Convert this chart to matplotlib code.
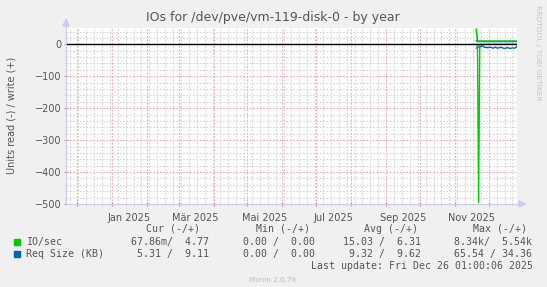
import matplotlib
matplotlib.use('Agg')
import matplotlib.pyplot as plt
import matplotlib.dates as mdates
from matplotlib.patches import Rectangle, Polygon
from datetime import datetime
import pandas as pd

# data (daily, one year graph)
days = pd.date_range('2025-11-20', '2025-12-26')
io_read = [0.5, 0.5, 495, 0.5, 0.4, 0.3, 0.4, 0.3, 0.2, 0.3, 0.2, 0.3, 0.2,
           0.2, 0.3, 0.2, 0.1, 0.2, 0.1, 0.1, 0.2, 0.1, 0.1, 0.1, 0.1, 0.1,
           0.2, 0.1, 0.1, 0.1, 0.1, 0.1, 0.1, 0.1, 0.1, 0.1, 0.07]
io_write = [47, 10, 10, 9.8, 10, 10, 9.9, 10, 10, 10, 9.8, 10, 10, 10, 9.9,
            10, 10, 10, 10, 9.9, 10, 10, 10, 10, 9.8, 10, 10, 10, 10, 9.9, 10,
            10, 10, 10, 10, 9.9, 10]
req_read = [12, 8, 9, 8, 7, 4, 6, 9, 10, 9, 11, 10, 9, 10, 11, 12, 10, 9,
            11, 12, 11, 10, 9, 11, 12, 13, 12, 11, 10, 12, 13, 12, 11, 12, 12,
            10, 6]
req_write = [12, 8.5, 8.6, 8.5, 8.7, 8.5, 8.6, 8.5, 8.6, 8.5, 8.5, 8.6, 8.5,
             8.5, 8.6, 8.5, 8.5, 8.6, 8.5, 8.5, 8.6, 8.5, 8.5, 8.5, 8.6, 8.5,
             8.5, 8.6, 8.5, 8.5, 8.6, 8.5, 8.5, 8.5, 8.6, 8.5, 8.5]

month_names = ['Jan', 'Feb', 'Mär', 'Apr', 'Mai', 'Jun', 'Jul', 'Aug',
               'Sep', 'Okt', 'Nov', 'Dez']
label_months = [1, 3, 5, 7, 9, 11]

legend_rows = [
    ('IO/sec', '#00cc00', '67.86m/  4.77', '0.00 /  0.00', '15.03 /  6.31', '8.34k/  5.54k'),
    ('Req Size (KB)', '#0066b3', ' 5.31 /  9.11', '0.00 /  0.00', ' 9.32 /  9.62', '65.54 / 34.36'),
]

W, H = 547, 287
fig = plt.figure(figsize=(W / 100, H / 100), dpi=100, facecolor='#f0f0f0')
L, R, T, B = 66, 517, 28, 204
ax = fig.add_axes([L / W, 1 - B / H, (R - L) / W, (B - T) / H], facecolor='white')

t0 = datetime(2024, 11, 21, 1, 0)
t1 = datetime(2025, 12, 26, 1, 0)
ax.set_xlim(t0, t1)
ax.set_ylim(-500, 51)

# grid
months = [datetime(2024, 12, 1)] + [datetime(2025, m, 1) for m in range(1, 13)]
ax.set_xticks(months)
ax.xaxis.set_minor_locator(mdates.WeekdayLocator(byweekday=mdates.MO))
ax.set_yticks(range(-500, 1, 100))
ax.set_yticks(range(-500, 51, 20), minor=True)
ax.grid(which='minor', color='#d4d4d4', lw=0.8, ls=(0, (1.5, 1.5)))
ax.grid(which='major', color='#eeaaaa', lw=0.8, ls=(0, (1.5, 1.5)))
ax.set_axisbelow(True)
ax.tick_params(which='major', axis='x', length=3, color='#e08080', labelbottom=False, direction='inout')
ax.tick_params(which='minor', axis='x', length=2, color='#cccccc', direction='inout')
ax.tick_params(which='major', axis='y', length=3, color='#e08080', direction='inout',
               labelsize=7, labelcolor='#555555', pad=2)
ax.tick_params(which='minor', axis='y', length=2, color='#cccccc', direction='inout')
for s in ['top', 'right']:
    ax.spines[s].set_visible(False)
ax.spines['left'].set_color('#ccccee')
ax.spines['bottom'].set_color('#ccccee')

for m in label_months:
    ax.text(datetime(2025, m, 16), -0.05, f'{month_names[m - 1]} 2025', transform=ax.get_xaxis_transform(),
            ha='center', va='top', fontsize=7, color='#555555')

# series
ax.plot(days, [-v for v in req_read], color='#0066b3', lw=1.0)
ax.plot(days, req_write, color='#0066b3', lw=1.0)
ax.plot(days, [-v for v in io_read], color='#00cc00', lw=1.0)
ax.plot(days, io_write, color='#00cc00', lw=1.2)
ax.axhline(0, color='black', lw=1.0, zorder=5)

# axis arrows
fig.patches.append(Polygon([[(L - 3) / W, 1 - 26 / H], [(L + 3) / W, 1 - 26 / H], [L / W, 1 - 19 / H]],
                           closed=True, transform=fig.transFigure, color='#ccccee'))
fig.lines.append(plt.Line2D([L / W, L / W], [1 - B / H, 1 - 26 / H], transform=fig.transFigure,
                            color='#ccccee', lw=0.8))
fig.patches.append(Polygon([[519 / W, 1 - (B - 3) / H], [519 / W, 1 - (B + 3) / H], [526 / W, 1 - B / H]],
                           closed=True, transform=fig.transFigure, color='#ccccee'))
fig.lines.append(plt.Line2D([R / W, 519 / W], [1 - B / H, 1 - B / H], transform=fig.transFigure,
                            color='#ccccee', lw=0.8))

# texts
fig.text(273 / W, 1 - 17 / H, 'IOs for /dev/pve/vm-119-disk-0 - by year', ha='center', va='center',
         fontsize=9, color='#555555')
fig.text(12 / W, 1 - 115 / H, 'Units read (-) / write (+)', rotation=90, ha='center', va='center',
         fontsize=7, color='#555555')
fig.text(538 / W, 1 - 5 / H, 'RRDTOOL / TOBI OETIKER', rotation=270, ha='center', va='top',
         fontsize=5.4, color='#c4c4c4')
fig.text(273 / W, 1 - 280 / H, 'Munin 2.0.76', ha='center', va='center', fontsize=5.2, color='#bbbbbb')

mono = 'DejaVu Sans Mono'
fs = 7.1
for x, h in zip([146.5, 255.7, 363.8, 472.6], ['Cur (-/+)', 'Min (-/+)', 'Avg (-/+)', 'Max (-/+)']):
    fig.text(x / W, 1 - 228.6 / H, h, family=mono, fontsize=fs, color='#555555', va='center')
col_x = [131, 243, 343, 454]
for i, (name, col, cur, mn, avg, mx) in enumerate(legend_rows):
    y = 241.5 + i * 12.5
    fig.patches.append(Rectangle((14 / W, 1 - (y + 3) / H), 6 / W, 6 / H, transform=fig.transFigure,
                                 color=col))
    fig.text(26 / W, 1 - y / H, name, family=mono, fontsize=fs, color='#555555', va='center')
    for x, s in zip(col_x, [cur, mn, avg, mx]):
        fig.text(x / W, 1 - y / H, s, family=mono, fontsize=fs, color='#555555', va='center')
fig.text(532.6 / W, 1 - 266.3 / H, 'Last update: Fri Dec 26 01:00:06 2025', family=mono, fontsize=fs,
         color='#555555', va='center', ha='right')

fig.savefig('out.png', dpi=100, facecolor=fig.get_facecolor())
